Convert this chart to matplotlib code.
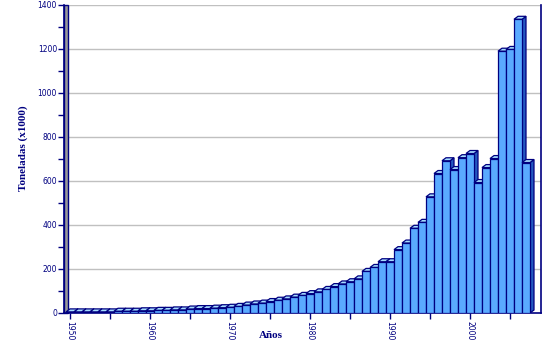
import numpy as np
import matplotlib.pyplot as plt
from matplotlib.patches import Polygon, Rectangle

years = list(range(1950, 2008))
toneladas = [5, 5, 5, 5, 5, 5, 8, 8, 8, 10,
             10, 12, 12, 14, 14, 18, 20, 20, 22, 24,
             26, 30, 36, 41, 45, 52, 58, 64, 72, 80,
             88, 96, 107, 120, 132, 142, 155, 189, 207, 233,
             233, 288, 318, 385, 412, 528, 634, 692, 652, 706,
             725, 593, 661, 702, 1190, 1198, 1335, 684]
yticks = [0, 200, 400, 600, 800, 1000, 1200, 1400]
xticks = [1950, 1960, 1970, 1980, 1990, 2000]

navy = '#000080'
front_c = '#5aaaff'
top_c = '#a6dcff'
side_c = '#2458c0'

fig = plt.figure(figsize=(5.48, 3.6), dpi=100)
ax = fig.add_axes([64/548, 1 - 313/360, (541 - 64)/548, 308/360])

# profundidad del efecto 3d (en unidades de datos)
dx = 0.5
dy = 13.6
w = 1.0

for i, (yr, h) in enumerate(zip(years, toneladas)):
    l = yr - w/2
    r = yr + w/2
    z = 3 + i*0.01
    side = Polygon([(r, 0), (r + dx, dy), (r + dx, h + dy), (r, h)], closed=True,
                   fc=side_c, ec=navy, lw=0.9, zorder=z)
    top = Polygon([(l, h), (l + dx, h + dy), (r + dx, h + dy), (r, h)], closed=True,
                  fc=top_c, ec=navy, lw=0.9, zorder=z)
    front = Rectangle((l, 0), w, h, fc=front_c, ec=navy, lw=0.9, zorder=z + 0.001)
    ax.add_patch(side)
    ax.add_patch(top)
    ax.add_patch(front)

ax.set_xlim(1949.25, 2008.875)
ax.set_ylim(0, 1400)

# pared izquierda gris
ax.add_patch(Rectangle((0, 0), 0.009, 1, transform=ax.transAxes, fc='#999999',
                       ec=navy, lw=1, zorder=2, clip_on=False))

for yv in yticks[1:]:
    ax.axhline(yv, color='#c0c0c0', lw=1, zorder=1)

ax.set_yticks(yticks)
ax.set_yticks(range(100, 1400, 200), minor=True)
ax.set_xticks(xticks)
ax.set_xticks([1955, 1965, 1975, 1985, 1995, 2005], minor=True)
ax.set_xticklabels([str(x) for x in xticks], rotation=-90)
ax.tick_params(axis='both', which='both', colors=navy, labelsize=5.5, length=4, width=1,
               direction='out', pad=1.5)
ax.tick_params(axis='y', which='major', pad=1)

for s in ['left', 'bottom', 'right']:
    ax.spines[s].set_color(navy)
    ax.spines[s].set_linewidth(1.2)
ax.spines['top'].set_visible(False)

fig.text(271/548, 1 - 336/360, 'Años', ha='center', va='center', color=navy,
         fontsize=8, fontweight='bold', family='Liberation Serif')
fig.text(23/548, 1 - 148/360, 'Toneladas (x1000)', ha='center', va='center', color=navy,
         fontsize=8, fontweight='bold', family='Liberation Serif', rotation=90)

fig.savefig('out.png', dpi=100)
